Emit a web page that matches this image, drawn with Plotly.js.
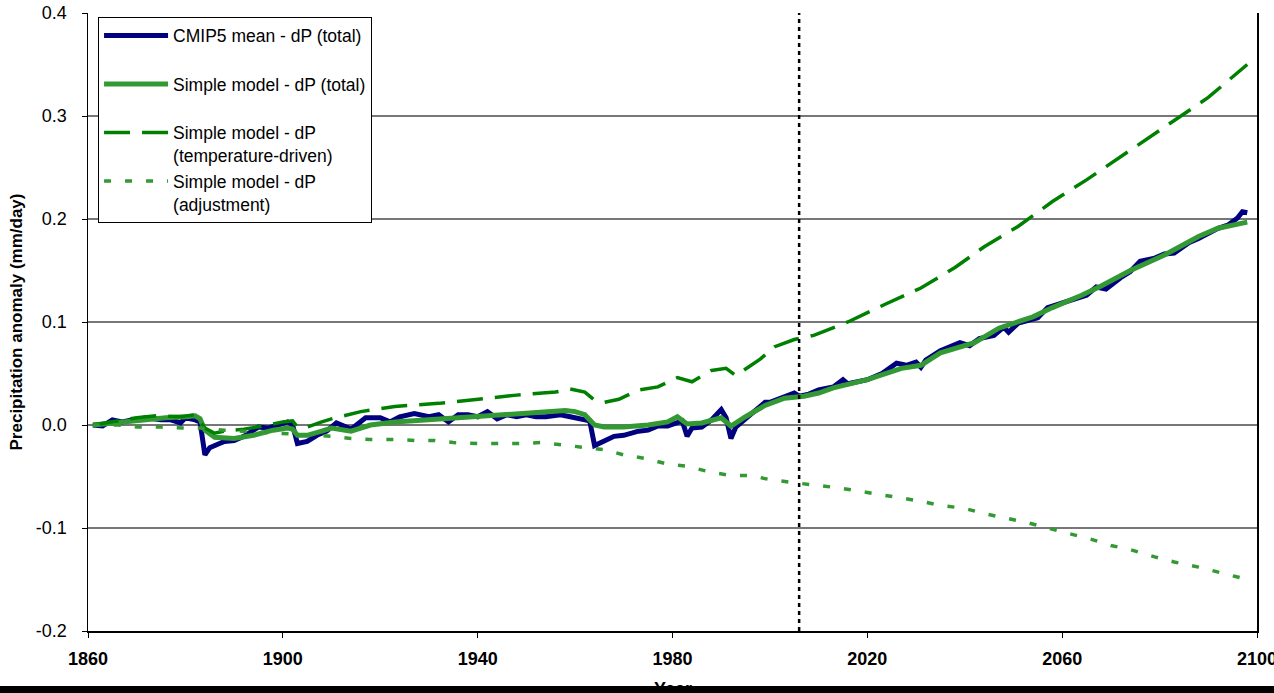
<!DOCTYPE html>
<html>
<head>
<meta charset="utf-8">
<script src="https://cdn.plot.ly/plotly-3.0.1.min.js"></script>
<style>
  html, body { margin: 0; padding: 0; background: #ffffff; overflow: hidden; }
  #chart { width: 1274px; height: 693px; }
  #bottomBar { position: absolute; left: 0; top: 686px; width: 1274px; height: 7px; background: #000000; }
</style>
</head>
<body>
<div id="chart"></div>
<div id="bottomBar"></div>
<script>
// ---------- DATA ----------
const seriesNames = [
  "CMIP5 mean - dP (total)",
  "Simple model - dP (total)",
  "Simple model - dP<br>(temperature-driven)",
  "Simple model - dP<br>(adjustment)"
];

const cmip5Years = [1861,1863,1865,1867,1869,1872,1875,1877,1879,1880,1882,1883,1884,1885,1887,1888,1890,1892,1895,1897,1899,1901,1902,1903,1905,1907,1909,1911,1914,1917,1920,1922,1924,1927,1930,1932,1934,1936,1938,1940,1942,1944,1946,1948,1950,1952,1954,1957,1959,1961,1962,1963,1964,1966,1968,1970,1973,1975,1977,1979,1981,1982,1983,1984,1986,1988,1990,1991,1992,1993,1996,1999,2000,2003,2005,2006,2008,2010,2013,2015,2016,2020,2023,2026,2028,2030,2031,2032,2035,2039,2041,2043,2046,2048,2049,2051,2055,2057,2062,2065,2067,2069,2072,2074,2076,2079,2081,2083,2086,2088,2092,2094,2096,2097,2098];
const cmip5Values = [0.000,-0.001,0.005,0.003,0.005,0.007,0.005,0.005,0.002,0.007,0.005,0.003,-0.029,-0.022,-0.018,-0.016,-0.015,-0.011,-0.002,-0.003,0.000,0.003,0.000,-0.018,-0.016,-0.010,-0.006,0.002,-0.004,0.007,0.007,0.003,0.008,0.011,0.008,0.010,0.003,0.010,0.010,0.008,0.013,0.006,0.010,0.008,0.010,0.008,0.008,0.010,0.008,0.006,0.005,0.004,-0.020,-0.015,-0.011,-0.010,-0.006,-0.005,-0.001,-0.001,0.003,0.004,-0.011,-0.003,-0.002,0.005,0.015,0.007,-0.013,-0.002,0.010,0.022,0.022,0.027,0.031,0.028,0.030,0.034,0.037,0.044,0.040,0.044,0.050,0.060,0.058,0.061,0.056,0.063,0.072,0.080,0.077,0.084,0.087,0.095,0.090,0.099,0.104,0.114,0.121,0.126,0.134,0.132,0.143,0.149,0.159,0.162,0.166,0.167,0.177,0.181,0.191,0.194,0.201,0.207,0.206];

const totalYears = [1861,1865,1868,1872,1876,1880,1882,1883,1884,1886,1888,1890,1894,1898,1901,1902,1903,1905,1908,1910,1914,1918,1923,1930,1937,1944,1951,1958,1960,1962,1964,1966,1970,1975,1979,1981,1983,1986,1990,1992,1995,1999,2003,2007,2010,2013,2020,2027,2031,2035,2042,2047,2054,2058,2064,2068,2074,2081,2088,2092,2098];
const totalValues = [0.000,0.002,0.004,0.006,0.007,0.008,0.009,0.006,-0.005,-0.012,-0.013,-0.013,-0.010,-0.005,-0.003,-0.004,-0.010,-0.010,-0.006,-0.003,-0.006,0.000,0.003,0.005,0.007,0.010,0.012,0.014,0.013,0.010,0.000,-0.002,-0.002,0.000,0.003,0.008,0.001,0.002,0.007,-0.001,0.008,0.019,0.026,0.028,0.031,0.036,0.044,0.055,0.058,0.070,0.080,0.094,0.105,0.114,0.126,0.135,0.150,0.165,0.183,0.191,0.197];

const tempYears = [1861,1865,1870,1874,1879,1882,1884,1886,1888,1892,1896,1900,1902,1903,1905,1908,1910,1916,1923,1932,1940,1948,1956,1959,1962,1964,1966,1969,1973,1977,1981,1984,1988,1991,1993,1995,1998,2001,2005,2009,2016,2024,2031,2038,2044,2051,2058,2065,2070,2080,2090,2098];
const tempValues = [0.000,0.003,0.007,0.009,0.008,0.010,-0.003,-0.008,-0.006,-0.004,-0.001,0.003,0.004,-0.002,-0.002,0.003,0.006,0.013,0.018,0.021,0.025,0.029,0.032,0.035,0.032,0.024,0.022,0.025,0.034,0.037,0.046,0.042,0.053,0.055,0.048,0.054,0.064,0.076,0.083,0.087,0.100,0.118,0.133,0.153,0.173,0.193,0.217,0.238,0.254,0.287,0.318,0.350];

const adjYears = [1861,1866,1870,1875,1880,1883,1888,1892,1900,1910,1914,1918,1923,1927,1931,1935,1940,1944,1949,1953,1957,1961,1966,1970,1975,1979,1983,1988,1992,1996,2000,2005,2009,2014,2018,2022,2027,2031,2035,2040,2044,2048,2053,2057,2061,2066,2070,2074,2079,2083,2088,2092,2096,2098];
const adjValues = [0.000,0.000,-0.002,-0.002,-0.003,-0.003,-0.005,-0.006,-0.008,-0.011,-0.013,-0.014,-0.014,-0.015,-0.015,-0.017,-0.018,-0.018,-0.018,-0.017,-0.019,-0.021,-0.024,-0.029,-0.033,-0.038,-0.040,-0.046,-0.049,-0.049,-0.053,-0.056,-0.058,-0.061,-0.064,-0.067,-0.071,-0.074,-0.078,-0.081,-0.086,-0.090,-0.095,-0.100,-0.105,-0.111,-0.117,-0.121,-0.128,-0.133,-0.138,-0.143,-0.148,-0.150];

const historicalEndYear = 2006;

const xTickVals = [1860,1900,1940,1980,2020,2060,2100];
const xTickText = ["1860","1900","1940","1980","2020","2060","2100"];
const yTickVals = [-0.2,-0.1,0.0,0.1,0.2,0.3,0.4];
const yTickText = ["-0.2","-0.1","0.0","0.1","0.2","0.3","0.4"];

const xTitle = "Year";
const yTitle = "Precipitation anomaly (mm/day)";

// ---------- CHART ----------
const FONT = "Liberation Sans, Arial, Helvetica, sans-serif";

const traces = [
  { x: cmip5Years, y: cmip5Values, name: seriesNames[0] + "<br> ", mode: "lines",
    line: { color: "#000080", width: 5 }, legendgroup: "a" },
  { x: totalYears, y: totalValues, name: seriesNames[1] + "<br> ", mode: "lines",
    line: { color: "#339933", width: 5 }, legendgroup: "b" },
  { x: tempYears, y: tempValues, name: seriesNames[2], mode: "lines",
    line: { color: "#008000", width: 3.5, dash: "26px,12px" }, legendgroup: "c" },
  { x: adjYears, y: adjValues, name: seriesNames[3], mode: "lines",
    line: { color: "#339933", width: 3.5, dash: "7px,14px" }, legendgroup: "d" }
];

const layout = {
  width: 1274, height: 693,
  margin: { l: 88, r: 17, t: 13, b: 62 },
  paper_bgcolor: "#ffffff", plot_bgcolor: "#ffffff",
  font: { family: FONT, color: "#000000" },
  showlegend: true,
  legend: {
    x: 0.0086, y: 0.994, xanchor: "left", yanchor: "top",
    bgcolor: "#ffffff", bordercolor: "#000000", borderwidth: 1,
    font: { family: FONT, size: 17.5, color: "#000000" },
    itemwidth: 64, valign: "top", tracegroupgap: 0, traceorder: "normal"
  },
  xaxis: {
    range: [1860, 2100], tickvals: xTickVals, ticktext: xTickText,
    showgrid: false, zeroline: false,
    showline: true, linecolor: "#000000", linewidth: 1.5, mirror: false,
    ticks: "outside", ticklen: 5, tickcolor: "#000000", ticklabelstandoff: 6,
    ticklabeloverflow: "allow",
    tickfont: { family: FONT, size: 18, color: "#000000", weight: "bold" }
  },
  yaxis: {
    range: [-0.2, 0.4], tickvals: yTickVals, ticktext: yTickText,
    showgrid: true, gridcolor: "#777777", gridwidth: 1.2, zeroline: false,
    showline: true, linecolor: "#000000", linewidth: 1.5, mirror: true,
    ticks: "outside", ticklen: 5, tickcolor: "#000000", ticklabelstandoff: 11,
    tickfont: { family: FONT, size: 18, color: "#000000" },
    title: { text: "<b>" + yTitle + "</b>", font: { family: FONT, size: 17, color: "#000000" }, standoff: 9 }
  },
  annotations: [
    { text: "<b>" + xTitle + "</b>", xref: "paper", yref: "paper", x: 0.5, y: -0.094, xanchor: "center", yanchor: "middle",
      showarrow: false, font: { family: FONT, size: 18, color: "#000000" } }
  ],
  shapes: [
    { type: "line", xref: "x", yref: "paper", x0: historicalEndYear, x1: historicalEndYear, y0: 0, y1: 1,
      line: { color: "#000000", width: 2.5, dash: "4px,4px" }, layer: "above" }
  ]
};

Plotly.newPlot("chart", traces, layout, { displayModeBar: false, staticPlot: true });
</script>
</body>
</html>
